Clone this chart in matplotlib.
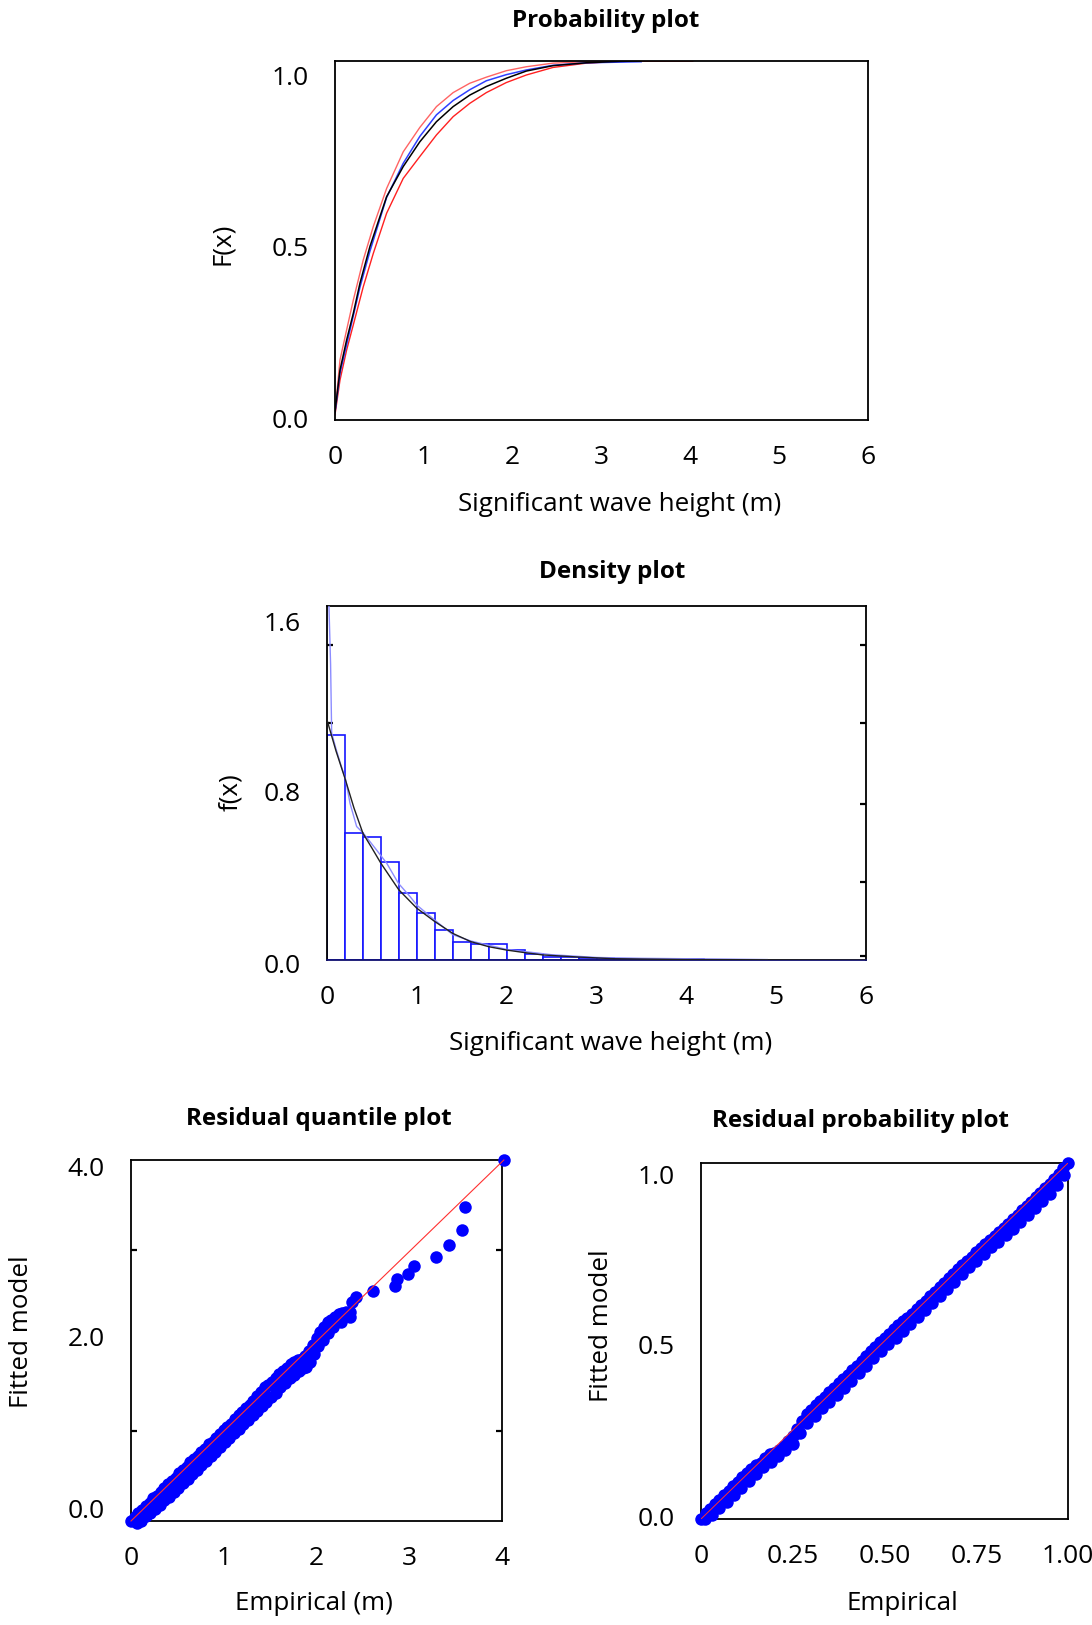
import matplotlib
matplotlib.use("Agg")
import matplotlib.pyplot as plt
from matplotlib.ticker import FixedLocator, NullFormatter
from matplotlib.transforms import ScaledTranslation

plt.rcParams['font.family'] = ['Open Sans', 'DejaVu Sans']

# ---------------- data: probability plot (CDF) ----------------
cdf_fit_x = [0.0, 0.056, 0.131, 0.206, 0.281, 0.393, 0.581, 0.768, 0.955, 1.142, 1.330, 1.517,
             1.704, 1.929, 2.154, 2.453, 2.828, 3.202, 3.446]
cdf_fit_y = [0.023, 0.139, 0.223, 0.297, 0.381, 0.483, 0.622, 0.706, 0.775, 0.831, 0.873, 0.905,
             0.929, 0.952, 0.972, 0.987, 0.995, 0.999, 1.0]
cdf_emp_x = [0.0, 0.056, 0.131, 0.206, 0.281, 0.393, 0.581, 0.768, 0.955, 1.142, 1.330, 1.517,
             1.704, 1.929, 2.154, 2.453, 2.828, 3.446]
cdf_emp_y = [0.02, 0.13, 0.21, 0.29, 0.37, 0.47, 0.62, 0.715, 0.79, 0.85, 0.89, 0.92,
             0.945, 0.962, 0.975, 0.988, 0.995, 0.998]
cdf_up_x = [0.0, 0.056, 0.131, 0.206, 0.318, 0.431, 0.581, 0.768, 0.955, 1.142, 1.330, 1.517,
            1.704, 1.929, 2.154, 2.453, 3.015, 4.026]
cdf_up_y = [0.02, 0.167, 0.251, 0.334, 0.446, 0.539, 0.645, 0.747, 0.815, 0.873, 0.912, 0.938,
            0.955, 0.973, 0.984, 0.994, 1.0, 1.0]
cdf_lo_x = [0.0, 0.056, 0.131, 0.206, 0.318, 0.431, 0.581, 0.768, 0.955, 1.142, 1.330, 1.517,
            1.704, 1.929, 2.154, 2.453, 2.828, 3.202, 4.026]
cdf_lo_y = [0.015, 0.111, 0.195, 0.265, 0.371, 0.464, 0.576, 0.673, 0.734, 0.794, 0.845, 0.882,
            0.912, 0.940, 0.961, 0.982, 0.994, 0.999, 1.0]

# ---------------- data: density plot ----------------
hist_left = [0.0, 0.2, 0.4, 0.6, 0.8, 1.0, 1.2, 1.4, 1.6, 1.8, 2.0, 2.2, 2.4, 2.6, 2.8, 3.0,
             3.2, 3.4, 3.6, 3.8, 4.0]
hist_height = [1.066, 0.600, 0.582, 0.463, 0.319, 0.221, 0.142, 0.084, 0.074, 0.074, 0.046,
               0.028, 0.016, 0.012, 0.010, 0.008, 0.006, 0.006, 0.004, 0.004, 0.003]
pdf_fit_x = [0.0, 0.1, 0.2, 0.3, 0.4, 0.5, 0.6, 0.8, 1.0, 1.2, 1.4, 1.6, 1.8, 2.0, 2.2, 2.4,
             2.8, 3.0, 3.2, 4.0, 6.0]
pdf_fit_y = [1.137, 0.99, 0.86, 0.72, 0.60, 0.53, 0.458, 0.332, 0.245, 0.182, 0.126, 0.087,
             0.063, 0.047, 0.035, 0.024, 0.014, 0.010, 0.006, 0.002, 0.0]
kde_x = [0.0, 0.02, 0.04, 0.052, 0.1, 0.15, 0.208, 0.256, 0.330, 0.405, 0.553, 0.665, 0.795,
         0.925, 1.0, 1.196, 1.4, 1.6, 1.8, 2.0, 2.2, 2.5, 3.0, 3.5, 4.0, 4.5, 4.9]
kde_y = [1.75, 1.70, 1.40, 1.074, 1.00, 0.93, 0.853, 0.742, 0.632, 0.600, 0.52, 0.458, 0.363,
         0.30, 0.26, 0.19, 0.12, 0.09, 0.07, 0.05, 0.04, 0.025, 0.012, 0.008, 0.006, 0.004, 0.002]

# ---------------- data: residual quantile plot ----------------
qq_emp = [0.00, 0.04, 0.08, 0.12, 0.16, 0.20, 0.24, 0.28, 0.32, 0.36, 0.40, 0.44, 0.48, 0.52,
          0.56, 0.60, 0.64, 0.68, 0.72, 0.76, 0.80, 0.84, 0.88, 0.92, 0.96, 1.00, 1.04, 1.08,
          1.12, 1.16, 1.20, 1.24, 1.28, 1.32, 1.36, 1.40, 1.44, 1.48, 1.52, 1.56, 1.60, 1.64,
          1.68, 1.72, 1.76, 1.80, 1.84, 1.88, 1.92, 1.96, 2.00, 2.04, 2.08, 2.12, 2.16, 2.20,
          2.24, 2.28, 2.32, 2.36, 2.38, 2.43,
          0.06, 0.11, 0.16, 0.21, 0.26, 0.31, 0.36, 0.41, 0.46, 0.51, 0.56, 0.61, 0.66, 0.71,
          0.76, 0.81, 0.86, 0.91, 0.96, 1.01, 1.06, 1.11, 1.16, 1.21, 1.26, 1.31, 1.36, 1.41,
          1.46, 1.51, 1.56, 1.61, 1.66, 1.71, 1.76, 1.81, 1.85, 1.89, 1.93, 1.97, 2.02, 2.07,
          2.12, 2.18, 2.26, 2.36,
          2.61, 2.85, 2.87, 2.99, 3.05, 3.29, 3.43, 3.57, 3.60, 4.02]
qq_fit = [0.00, 0.04, 0.09, 0.12, 0.17, 0.20, 0.25, 0.28, 0.32, 0.37, 0.41, 0.44, 0.48, 0.53,
          0.56, 0.60, 0.65, 0.69, 0.72, 0.76, 0.80, 0.85, 0.88, 0.92, 0.96, 1.01, 1.04, 1.08,
          1.13, 1.17, 1.21, 1.25, 1.29, 1.33, 1.38, 1.43, 1.48, 1.51, 1.54, 1.58, 1.63, 1.66,
          1.70, 1.74, 1.76, 1.78, 1.80, 1.83, 1.88, 1.95, 2.03, 2.09, 2.15, 2.20, 2.23, 2.26,
          2.29, 2.31, 2.32, 2.32, 2.43, 2.48,
          -0.02, 0.00, 0.05, 0.09, 0.13, 0.18, 0.23, 0.27, 0.32, 0.37, 0.42, 0.47, 0.52, 0.57,
          0.62, 0.67, 0.72, 0.77, 0.82, 0.87, 0.92, 0.97, 1.02, 1.07, 1.12, 1.17, 1.22, 1.27,
          1.32, 1.37, 1.42, 1.48, 1.53, 1.58, 1.62, 1.66, 1.69, 1.71, 1.76, 1.85, 1.94, 2.01,
          2.08, 2.15, 2.20, 2.26,
          2.55, 2.60, 2.68, 2.74, 2.83, 2.92, 3.06, 3.22, 3.48, 4.00]

# ---------------- data: residual probability plot ----------------
rp_emp = [0.0000, 0.0125, 0.0250, 0.0375, 0.0500, 0.0625, 0.0750, 0.0875, 0.1000, 0.1125,
          0.1250, 0.1375, 0.1500, 0.1625, 0.1750, 0.1875, 0.2000, 0.2125, 0.2250, 0.2375,
          0.2500, 0.2625, 0.2750, 0.2875, 0.3000, 0.3125, 0.3250, 0.3375, 0.3500, 0.3625,
          0.3750, 0.3875, 0.4000, 0.4125, 0.4250, 0.4375, 0.4500, 0.4625, 0.4750, 0.4875,
          0.5000, 0.5125, 0.5250, 0.5375, 0.5500, 0.5625, 0.5750, 0.5875, 0.6000, 0.6125,
          0.6250, 0.6375, 0.6500, 0.6625, 0.6750, 0.6875, 0.7000, 0.7125, 0.7250, 0.7375,
          0.7500, 0.7625, 0.7750, 0.7875, 0.8000, 0.8125, 0.8250, 0.8375, 0.8500, 0.8625,
          0.8750, 0.8875, 0.9000, 0.9125, 0.9250, 0.9375, 0.9500, 0.9625, 0.9750, 0.9875,
          1.0000,
          0.010, 0.030, 0.050, 0.070, 0.090, 0.110, 0.130, 0.150, 0.170, 0.190, 0.210, 0.230,
          0.250, 0.270, 0.290, 0.310, 0.330, 0.350, 0.370, 0.390, 0.410, 0.430, 0.450, 0.470,
          0.490, 0.510, 0.530, 0.550, 0.570, 0.590, 0.610, 0.630, 0.650, 0.670, 0.690, 0.710,
          0.730, 0.750, 0.770, 0.790, 0.810, 0.830, 0.850, 0.870, 0.890, 0.910, 0.930, 0.950,
          0.970, 0.990]
rp_fit = [0.000, 0.016, 0.029, 0.041, 0.054, 0.067, 0.079, 0.092, 0.104, 0.117,
          0.129, 0.141, 0.152, 0.158, 0.170, 0.182, 0.185, 0.195, 0.206, 0.218,
          0.232, 0.252, 0.275, 0.294, 0.307, 0.319, 0.331, 0.343, 0.356, 0.368,
          0.381, 0.393, 0.405, 0.418, 0.430, 0.443, 0.458, 0.471, 0.483, 0.496,
          0.508, 0.521, 0.533, 0.545, 0.556, 0.566, 0.577, 0.589, 0.601, 0.613,
          0.626, 0.638, 0.651, 0.663, 0.676, 0.688, 0.701, 0.713, 0.725, 0.737,
          0.749, 0.761, 0.773, 0.785, 0.796, 0.806, 0.818, 0.830, 0.842, 0.854,
          0.867, 0.879, 0.891, 0.904, 0.916, 0.929, 0.941, 0.954, 0.968, 0.985,
          1.000,
          0.000, 0.010, 0.030, 0.049, 0.068, 0.088, 0.108, 0.127, 0.145, 0.159, 0.177, 0.193,
          0.211, 0.242, 0.269, 0.290, 0.311, 0.330, 0.349, 0.369, 0.389, 0.409, 0.431, 0.451,
          0.471, 0.491, 0.509, 0.527, 0.547, 0.567, 0.587, 0.607, 0.627, 0.647, 0.667, 0.687,
          0.707, 0.726, 0.745, 0.764, 0.779, 0.797, 0.816, 0.835, 0.854, 0.873, 0.893, 0.914,
          0.937, 0.965]

W, H = 1092, 1625
fig = plt.figure(figsize=(W / 100, H / 100), dpi=100)

def ax_at(l, t, r, b):
    return fig.add_axes([l / W, 1 - b / H, (r - l) / W, (b - t) / H])

def ftext(x, y, s, **kw):
    fig.text(x / W, 1 - y / H, s, ha='center', va='center', **kw)

TICK_FS = 19
LAB_FS = 18.7
TIT_FS = 17.5

def style(ax, xmaj, xlabels, ymaj, ylabels, xmin, ymin, yshift=None):
    ax.xaxis.set_major_locator(FixedLocator(xmaj))
    ax.set_xticklabels(xlabels)
    ax.yaxis.set_major_locator(FixedLocator(ymaj))
    ax.set_yticklabels(ylabels)
    ax.xaxis.set_minor_locator(FixedLocator(xmin))
    ax.yaxis.set_minor_locator(FixedLocator(ymin))
    ax.xaxis.set_minor_formatter(NullFormatter())
    ax.yaxis.set_minor_formatter(NullFormatter())
    ax.tick_params(which='major', length=0, labelsize=TICK_FS, pad=19)
    ax.tick_params(axis='x', which='major', pad=18)
    ax.tick_params(which='minor', direction='in', length=4, width=1.6,
                   top=True, right=True, bottom=True, left=True)
    for sp in ax.spines.values():
        sp.set_linewidth(1.3)
        sp.set_color('black')
    if yshift is not None:
        for lab, d in zip(ax.get_yticklabels(), yshift):
            lab.set_transform(lab.get_transform() +
                              ScaledTranslation(0, -d / 100.0, fig.dpi_scale_trans))

# ---- Probability plot ----
ax1 = ax_at(335, 61, 868, 420)
ax1.plot(cdf_up_x, cdf_up_y, color='#ff3030', lw=1.0, alpha=0.75)
ax1.plot(cdf_lo_x, cdf_lo_y, color='#ff2020', lw=1.0)
ax1.plot(cdf_emp_x, cdf_emp_y, color='#3040ff', lw=1.1)
ax1.plot(cdf_fit_x, cdf_fit_y, color='black', lw=1.1)
ax1.set_xlim(0, 6)
ax1.set_ylim(0, 1.0)
style(ax1, [0, 1, 2, 3, 4, 5, 6], ['0', '1', '2', '3', '4', '5', '6'],
      [0, 0.5, 1.0], ['0.0', '0.5', '1.0'], [0, 2, 4, 6], [0, 0.5, 1.0],
      yshift=[-1, 6, 14])
ftext(606, 21, 'Probability plot', fontsize=TIT_FS, fontweight='bold')
ftext(620, 504, 'Significant wave height (m)', fontsize=LAB_FS)
ftext(223, 244, 'F(x)', fontsize=LAB_FS, rotation=90)

# ---- Density plot ----
ax2 = ax_at(327, 606, 866, 960)
ax2.bar(hist_left, hist_height, width=0.2, align='edge', facecolor='white',
        edgecolor='#1515ff', lw=1.2, zorder=2)
ax2.plot(kde_x, kde_y, color='#8c8cff', lw=1.0, zorder=3)
ax2.plot(pdf_fit_x, pdf_fit_y, color='#202020', lw=1.0, zorder=4)
ax2.set_xlim(0, 6)
ax2.set_ylim(0, 1.676)
style(ax2, [0, 1, 2, 3, 4, 5, 6], ['0', '1', '2', '3', '4', '5', '6'],
      [0, 0.8, 1.6], ['0.0', '0.8', '1.6'], [0, 2, 4, 6], [0.02, 0.37, 0.74, 1.12, 1.49],
      yshift=[3, 0, -1])
ax2.spines['bottom'].set_color('#101070')
ftext(612, 572, 'Density plot', fontsize=TIT_FS, fontweight='bold')
ftext(611, 1044, 'Significant wave height (m)', fontsize=LAB_FS)
ftext(231, 792, 'f(x)', fontsize=LAB_FS, rotation=90)

# ---- Residual quantile plot ----
ax3 = ax_at(131, 1160, 502, 1521)
ax3.plot(qq_emp, qq_fit, 'o', color='#0000ff', ms=9.0, mew=0, clip_on=False, zorder=3)
ax3.plot([0, 4.02], [0, 4.0], color='#ff3030', lw=0.8, zorder=4, clip_on=False)
ax3.set_xlim(0, 4)
ax3.set_ylim(0, 4)
style(ax3, [0, 1, 2, 3, 4], ['0', '1', '2', '3', '4'],
      [0, 2, 4], ['0.0', '2.0', '4.0'], [0, 2, 4], [0, 1, 2, 3, 4],
      yshift=[-12, -4, 6])
ftext(319, 1119, 'Residual quantile plot', fontsize=TIT_FS, fontweight='bold')
ftext(314, 1604, 'Empirical (m)', fontsize=LAB_FS)
ftext(22, 1332, 'Fitted model', fontsize=LAB_FS, rotation=90)

# ---- Residual probability plot ----
ax4 = ax_at(701, 1163, 1068, 1519)
ax4.plot(rp_emp, rp_fit, 'o', color='#0000ff', ms=9.0, mew=0, clip_on=False, zorder=3)
ax4.plot([0, 1], [0, 1], color='#ff3030', lw=0.7, zorder=4)
ax4.set_xlim(0, 1)
ax4.set_ylim(0, 1)
style(ax4, [0, 0.25, 0.5, 0.75, 1.0], ['0', '0.25', '0.50', '0.75', '1.00'],
      [0, 0.5, 1.0], ['0.0', '0.5', '1.0'], [0, 0.5, 1.0], [0, 0.5, 1.0],
      yshift=[-2, 4, 11])
ftext(861, 1121, 'Residual probability plot', fontsize=TIT_FS, fontweight='bold')
ftext(902, 1604, 'Empirical', fontsize=LAB_FS)
ftext(601, 1326, 'Fitted model', fontsize=LAB_FS, rotation=90)

fig.savefig('out.png', dpi=100)
